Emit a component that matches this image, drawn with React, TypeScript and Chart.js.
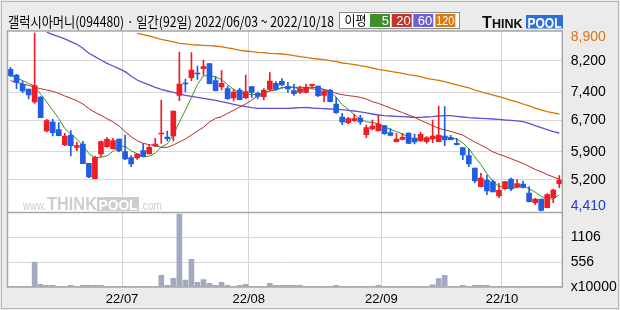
import React, { useEffect, useRef } from "react";
import { Chart, registerables } from "chart.js";

Chart.register(...registerables);

const title = "갤럭시아머니(094480) · 일간(92일) 2022/06/03 ~ 2022/10/18";
const legendTitle = "이평";
const maLabels = ["5", "20", "60", "120"];
const maBoxColors = ["#3f8f2a", "#c0352c", "#6a5fd6", "#d97a12"];
const maLineColors = ["#3e9322", "#b32e2e", "#5f52d8", "#d87408"];

const monthTickIdx = [19, 40, 62, 82];
const monthLabels = ["22/07", "22/08", "22/09", "22/10"];
const priceTicks = [8200, 7400, 6700, 5900, 5200];
const volTicks = [556, 1106];
const volUnitLabel = "x10000";

const openP = [7984,7841,7605,7488,7160,7286,6428,6655,6462,6075,
6327,6016,6101,5613,5226,5848,6033,5983,6227,5907,
5756,5747,5932,5848,6050,6353,6277,6302,7328,7631,
7774,7883,8001,8127,7698,7538,7496,7261,7462,7269,
7546,7378,7294,7479,7631,7681,7546,7446,7404,7404,
7580,7563,7328,7462,7109,6781,6639,6689,6756,6336,
6479,6428,6563,6386,6159,6218,6378,6252,6176,6159,
6227,6159,6302,6260,6117,6008,5806,5495,5024,5192,
5150,4789,4974,5218,5016,5092,4865,4621,4713,4495,
4747,5100];

const highP = [8034,7858,7689,7488,8900,7294,6723,6723,6639,6370,
6437,6151,6168,5613,5798,6176,6269,6243,6227,6327,
5806,5865,6109,6075,6243,7210,6428,6933,8421,7740,
8404,8068,8219,8127,7799,7950,7563,7488,7505,7841,
7546,7412,7496,7900,7673,7748,7656,7605,7563,7614,
7614,7563,7479,7479,7277,6874,6773,6849,6823,6580,
6706,6823,6572,6487,6370,6370,6378,6353,6403,6285,
6706,7059,7042,6319,6243,6008,5974,5495,5361,5310,
5192,5108,5150,5243,5201,5167,5024,4730,4713,4848,
4966,5302];

const lowP = [7799,7496,7395,7235,7126,6765,6403,6302,6302,6058,
5798,5932,5604,5251,5226,5781,6016,5974,5907,5705,
5529,5713,5781,5848,6033,6117,6176,6176,7193,7412,
7698,7731,7833,7614,7437,7462,7227,7185,7210,7244,
7269,7244,7210,7446,7454,7572,7404,7328,7378,7387,
7496,7294,7168,7160,6874,6588,6613,6672,6597,6260,
6454,6428,6344,6302,6151,6201,6109,6101,6176,6117,
6134,6159,6058,6201,6075,5705,5529,5125,5016,4823,
4890,4747,4957,4924,4999,4991,4638,4579,4410,4487,
4621,4999];

const closeP = [7824,7656,7437,7336,7572,6765,6689,6386,6311,6302,
6058,6058,5604,5268,5756,6159,6218,6185,5924,5722,
5596,5848,5781,6016,6101,6378,6235,6933,7614,7614,
7967,7866,8051,7622,7446,7631,7244,7412,7219,7420,
7404,7303,7462,7689,7496,7589,7488,7370,7488,7530,
7597,7320,7437,7168,6891,6655,6740,6740,6655,6512,
6555,6605,6361,6319,6227,6269,6117,6151,6344,6260,
6302,6327,6201,6210,6084,5823,5596,5167,5243,4915,
4890,4932,5150,4966,5100,5008,4646,4713,4427,4823,
4940,5192];

const volume = [15,15,15,15,560,60,40,40,15,15,
40,15,40,40,40,40,15,15,15,15,
15,15,15,15,15,260,40,195,1630,155,
620,105,168,82,40,105,40,15,40,60,
15,15,15,82,40,40,40,40,40,15,
15,15,15,15,40,15,15,15,15,15,
15,40,15,15,15,15,15,15,15,15,
50,190,262,15,15,40,15,40,40,40,
15,15,15,15,15,15,15,15,15,15,
15,15];

const ma5 = [7830,7770,7700,7630,7565,7353,7160,6950,6745,6491,
6349,6223,6067,5858,5749,5769,5801,5917,6048,6042,
5929,5855,5774,5793,5868,6025,6102,6333,6652,6955,
7273,7599,7822,7824,7790,7723,7599,7471,7390,7385,
7340,7352,7362,7456,7471,7508,7545,7526,7486,7493,
7495,7461,7474,7410,7283,7094,6978,6839,6736,6660,
6640,6613,6538,6470,6413,6356,6259,6217,6222,6228,
6235,6277,6287,6260,6225,6129,5983,5776,5583,5349,
5162,5029,5026,4971,5008,5031,4974,4887,4779,4723,
4710,4819];

const ma20 = [7698,7656,7614,7580,7530,7496,7462,7429,7378,7311,
7252,7193,7109,6992,6899,6823,6740,6655,6555,6412,
6285,6185,6117,6084,6058,6016,6016,6075,6151,6227,
6327,6428,6521,6655,6748,6790,6874,6950,7034,7109,
7210,7311,7395,7437,7462,7530,7530,7530,7530,7530,
7530,7513,7479,7437,7378,7345,7320,7303,7277,7235,
7168,7126,7067,7008,6950,6891,6832,6773,6698,6630,
6563,6496,6454,6420,6370,6327,6235,6150,6075,5991,
5900,5840,5790,5730,5670,5610,5535,5460,5400,5330,
5270,5215];

const ma60 = [null,null,null,null,null,null,8920,8860,8808,8749,
8681,8614,8513,8387,8303,8219,8135,8068,8001,7925,
7816,7715,7647,7589,7530,7479,7437,7404,7362,7328,
7303,7277,7252,7227,7202,7168,7135,7101,7067,7042,
7017,7000,7000,7000,7000,7000,7000,7008,7017,7025,
7008,7000,6992,6983,6975,6966,6950,6933,6908,6883,
6857,6832,6815,6807,6798,6790,6781,6773,6773,6781,
6790,6807,6815,6815,6798,6781,6765,6756,6748,6740,
6731,6723,6706,6697,6681,6664,6622,6563,6512,6462,
6412,6378];

const ma120 = [null,null,null,null,null,null,null,null,null,null,
null,null,null,null,null,null,null,null,null,null,
null,8890,8858,8824,8782,8740,8707,8673,8639,8623,
8606,8597,8589,8581,8572,8547,8522,8497,8463,8446,
8429,8412,8404,8387,8379,8370,8354,8328,8303,8286,
8261,8244,8227,8202,8177,8143,8127,8101,8076,8051,
8017,7984,7958,7933,7908,7883,7849,7824,7799,7757,
7731,7706,7673,7631,7589,7555,7513,7462,7412,7378,
7336,7294,7252,7202,7160,7109,7059,7008,6958,6916,
6883,6857];

const NUM_FONT = '"Liberation Sans Narrow", "Liberation Sans", Arial, sans-serif';
const SANS = '"Liberation Sans", Arial, sans-serif';
const KR = '"Noto Sans CJK KR", "Noto Sans", sans-serif';
const fmt = (v: number) => String(v).replace(/\B(?=(\d{3})+(?!\d))/g, ",");

const deco = {
  id: "deco",
  beforeDraw(chart: any) {
    const { ctx, chartArea: a, width, height } = chart;
    ctx.save();
    ctx.fillStyle = "#ebebeb";
    ctx.fillRect(0, 0, width, height);
    ctx.fillStyle = "#ffffff";
    ctx.fillRect(a.left, a.top, a.right - a.left, a.bottom - a.top);
    ctx.restore();
  },
  beforeDatasetsDraw(chart: any) {
    const { ctx } = chart;
    const base = chart.scales.y.bottom - 3;
    const c = "#cdcdcd";
    ctx.save();
    ctx.textAlign = "left";
    ctx.textBaseline = "alphabetic";
    ctx.fillStyle = c;
    ctx.font = "12px " + SANS;
    ctx.fillText("www.", 23, base, 23);
    ctx.font = "bold 19px " + SANS;
    ctx.fillText("THINK", 47, base, 50);
    ctx.fillRect(97, base - 12.5, 42, 14);
    ctx.fillStyle = "#ffffff";
    ctx.font = "bold 15px " + SANS;
    ctx.fillText("POOL", 98.5, base, 39);
    ctx.fillStyle = c;
    ctx.font = "12px " + SANS;
    ctx.fillText(".com", 140, base, 22);
    ctx.restore();
  },
  afterDraw(chart: any) {
    const { ctx, chartArea: a } = chart;
    const ys = chart.scales.y;
    ctx.save();
    // plot frame + panel separator
    ctx.strokeStyle = "#a6a6a6";
    ctx.lineWidth = 1.5;
    ctx.strokeRect(a.left, a.top, a.right - a.left, a.bottom - a.top);
    ctx.beginPath();
    ctx.moveTo(a.left, ys.bottom);
    ctx.lineTo(a.right, ys.bottom);
    ctx.stroke();
    // outer frame
    ctx.lineWidth = 1;
    ctx.strokeStyle = "#b4b4b4";
    ctx.strokeRect(1.5, 1.5, chart.width - 3, chart.height - 3);
    // max / min price labels
    const hi = Math.max(...highP);
    const lo = Math.min(...lowP);
    ctx.font = "14px " + NUM_FONT;
    ctx.textAlign = "left";
    ctx.textBaseline = "middle";
    ctx.fillStyle = "#dc7412";
    ctx.fillText(fmt(hi), a.right + 8.5, ys.getPixelForValue(hi) + 4.5);
    ctx.fillStyle = "#1a3cd8";
    ctx.fillText(fmt(lo), a.right + 8.5, ys.getPixelForValue(lo) - 4.5);
    // header title
    ctx.fillStyle = "#000";
    ctx.font = "14px " + KR;
    ctx.fillText(title, 8, 21.5, 326);
    // MA legend
    ctx.fillStyle = "#ffffff";
    ctx.fillRect(340, 12.5, 119, 15.5);
    ctx.strokeStyle = "#8a8a8a";
    ctx.strokeRect(339.5, 12.5, 120, 16);
    ctx.fillStyle = "#000";
    ctx.font = "13px " + KR;
    ctx.fillText(legendTitle, 344.5, 20.5, 22);
    const bx = [370, 391.7, 413.3, 435.3];
    maLabels.forEach((t, k) => {
      ctx.fillStyle = maBoxColors[k];
      ctx.fillRect(bx[k], 14, 20, 13);
      ctx.fillStyle = "#ffffff";
      ctx.textAlign = "right";
      ctx.font = "13px " + SANS;
      ctx.fillText(t, bx[k] + 19, 21, 18);
    });
    // logo
    ctx.textAlign = "left";
    ctx.textBaseline = "alphabetic";
    ctx.fillStyle = "#111";
    ctx.font = "bold 16px " + SANS;
    ctx.fillText("T", 482, 28.3);
    ctx.font = "bold 12.5px " + SANS;
    ctx.fillText("HINK", 492, 28.3, 33);
    ctx.fillStyle = "#2e6fdd";
    ctx.fillRect(526, 15, 37, 13.5);
    ctx.fillStyle = "#ffffff";
    ctx.font = "bold 14px " + SANS;
    ctx.fillText("POOL", 527.5, 27.5, 34);
    ctx.restore();
  },
};

export default function App() {
  const ref = useRef<HTMLCanvasElement | null>(null);
  useEffect(() => {
    if (!ref.current) return;
    const idx = closeP.map((_, i) => i);
    const RED = "#ee1c24";
    const BLUE = "#1f5ee0";
    const colors = idx.map((i) => (closeP[i] >= openP[i] ? RED : BLUE));
    const line = (arr: (number | null)[], color: string, w: number, order: number) => ({
      type: "line" as const,
      data: idx.map((i) => ({ x: i, y: arr[i] })),
      yAxisID: "y",
      borderColor: color,
      borderWidth: w,
      pointRadius: 0,
      tension: 0,
      spanGaps: false,
      order,
    });
    const chart = new Chart(ref.current, {
      type: "bar",
      data: {
        datasets: [
          {
            type: "bar",
            data: idx.map((i) => ({ x: i, y: [openP[i], closeP[i]] })) as any,
            yAxisID: "y",
            backgroundColor: colors,
            barThickness: 5,
            minBarLength: 1,
            grouped: false,
            order: 1,
          },
          {
            type: "bar",
            data: idx.map((i) => ({ x: i, y: [lowP[i], highP[i]] })) as any,
            yAxisID: "y",
            backgroundColor: colors,
            barThickness: 1,
            grouped: false,
            order: 2,
          },
          line(ma5, maLineColors[0], 1, 3),
          line(ma20, maLineColors[1], 1, 4),
          line(ma60, maLineColors[2], 1.3, 5),
          line(ma120, maLineColors[3], 1.3, 6),
          {
            type: "bar",
            data: idx.map((i) => ({ x: i, y: volume[i] })) as any,
            yAxisID: "yv",
            backgroundColor: "#a2aac2",
            barThickness: 5,
            grouped: false,
            order: 8,
          },
        ] as any,
      },
      options: {
        responsive: false,
        animation: false,
        events: [],
        layout: { padding: { left: 7.5, top: 31, right: 0, bottom: 0 } },
        plugins: { legend: { display: false }, tooltip: { enabled: false } },
        scales: {
          x: {
            type: "linear",
            min: -0.5,
            max: closeP.length - 0.5,
            offset: false,
            afterBuildTicks: (s: any) => {
              s.ticks = monthTickIdx.map((i) => ({ value: i - 0.5 }));
            },
            afterFit: (s: any) => {
              s.height = 23;
            },
            ticks: {
              autoSkip: false,
              maxRotation: 0,
              padding: 5,
              color: "#000",
              font: { family: SANS, size: 13 },
              callback: (v: any) => {
                const k = monthTickIdx.indexOf(Math.round(Number(v) + 0.5));
                return k >= 0 ? monthLabels[k] : "";
              },
            },
            grid: { color: "#d4d4d4", lineWidth: 1, drawTicks: false, offset: false },
            border: { display: false },
          },
          y: {
            type: "linear",
            position: "right",
            stack: "panels",
            stackWeight: 181.5,
            min: 4373,
            max: 8950,
            afterBuildTicks: (s: any) => {
              s.ticks = priceTicks.map((v) => ({ value: v }));
            },
            afterFit: (s: any) => {
              s.width = 57.7;
            },
            ticks: {
              padding: 8.5,
              color: "#000",
              font: { family: NUM_FONT, size: 14 },
              callback: (v: any) => fmt(Number(v)),
            },
            grid: { color: "#d8d8d8", lineWidth: 1, drawTicks: false },
            border: { display: false },
          },
          yv: {
            type: "linear",
            position: "right",
            stack: "panels",
            stackWeight: 74.5,
            min: 0,
            max: 1668,
            afterBuildTicks: (s: any) => {
              s.ticks = [0, ...volTicks].map((v) => ({ value: v }));
            },
            afterFit: (s: any) => {
              s.width = 57.7;
            },
            ticks: {
              padding: 8.5,
              color: "#000",
              font: { family: NUM_FONT, size: 14 },
              callback: (v: any) => (Number(v) === 0 ? volUnitLabel : String(v)),
            },
            grid: {
              color: (ctx: any) => (ctx.tick && ctx.tick.value === 0 ? "rgba(0,0,0,0)" : "#d8d8d8"),
              lineWidth: 1,
              drawTicks: false,
            },
            border: { display: false },
          },
        },
      } as any,
      plugins: [deco],
    });
    return () => chart.destroy();
  }, []);

  return (
    <div style={{ position: "absolute", left: 0, top: 0, width: 620, height: 310 }}>
      <canvas ref={ref} width={620} height={310} style={{ display: "block", width: 620, height: 310 }} />
    </div>
  );
}
